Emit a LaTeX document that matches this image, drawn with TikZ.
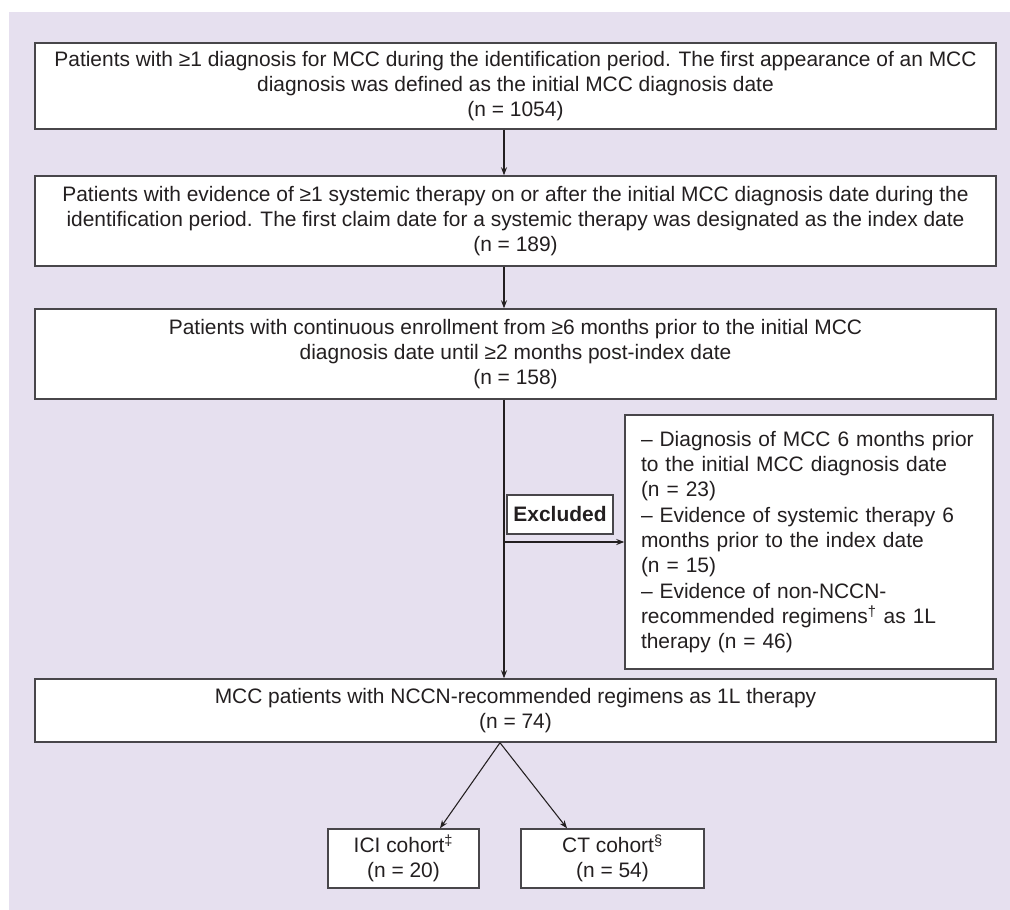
\documentclass[tikz,border=0pt]{standalone}
\usepackage{fontspec}
\setmainfont{Liberation Sans}
\usetikzlibrary{arrows.meta, calc}
\definecolor{lavender}{RGB}{230,224,239}
\definecolor{boxline}{RGB}{72,70,74}
\definecolor{ink}{RGB}{35,31,32}
\tikzset{
    >={Stealth[length=6pt, width=4.5pt]}, % small filled arrow heads
    box/.style={draw=boxline, line width=1.1pt, fill=white, text=ink, align=center, inner sep=0pt}, % every white box
    link/.style={->, draw=ink, line width=0.8pt}, % the connectors between boxes
}

\begin{document}
\begin{tikzpicture}[x=0.75pt, y=-0.75pt, font=\fontsize{15.7}{19}\selectfont]
    \useasboundingbox (0,0) rectangle (1010,910);
    \fill[lavender] (9,12) rectangle (1010,910);
    \coordinate (spine) at (504,0);
    \node[box, minimum width=720.75pt, minimum height=64.5pt] (b1) at (515.5,86)
        {Patients with ≥1 diagnosis for MCC during the identification period. The first appearance of an MCC\\
         diagnosis was defined as the initial MCC diagnosis date\\(n = 1054)};
    \node[box, minimum width=720.75pt, minimum height=67.5pt] (b2) at (515.5,221)
        {Patients with evidence of ≥1 systemic therapy on or after the initial MCC diagnosis date during the\\
         identification period. The first claim date for a systemic therapy was designated as the index date\\(n = 189)};
    \node[box, minimum width=720.75pt, minimum height=67.5pt] (b3) at (515.5,354)
        {Patients with continuous enrollment from ≥6 months prior to the initial MCC\\
         diagnosis date until ≥2 months post-index date\\(n = 158)};
    \node[box, align=left, text width=252pt, inner xsep=12pt, minimum height=190.5pt] (ex) at (809,542)
        {– Diagnosis of MCC 6 months prior\\to the initial MCC diagnosis date\\(n = 23)\\
         – Evidence of systemic therapy 6\\months prior to the index date\\(n = 15)\\
         – Evidence of non-NCCN-\\recommended regimens\textsuperscript{†} as 1L\\therapy (n = 46)};
    \node[box, font=\fontsize{15.7}{19}\selectfont\bfseries, minimum width=79.5pt, minimum height=29.25pt] (exlabel) at (560,514.5) {Excluded};
    \node[box, minimum width=720.75pt, minimum height=47.25pt] (b4) at (515.5,710.5)
        {MCC patients with NCCN-recommended regimens as 1L therapy\\(n = 74)};
    \node[box, minimum width=113.25pt, minimum height=44.25pt] (ici) at (403.5,858.5) {ICI cohort\textsuperscript{‡}\\(n = 20)};
    \node[box, minimum width=137.25pt, minimum height=44.25pt] (ct) at (612.5,858.5) {CT cohort\textsuperscript{§}\\(n = 54)};
    \coordinate (split) at ($(b4.south)+(-15.5,0)$);
    \draw[link] (b1.south -| spine) -- (b2.north -| spine);
    \draw[link] (b2.south -| spine) -- (b3.north -| spine);
    \draw[link] (b3.south -| spine) -- (b4.north -| spine);
    \draw[link] (spine |- ex.west) -- (ex.west);
    \draw[link] (split) -- ($(ici.north)+(36.5,0)$);
    \draw[link] (split) -- ($(ct.north)+(-45.5,0)$);
\end{tikzpicture}
\end{document}
